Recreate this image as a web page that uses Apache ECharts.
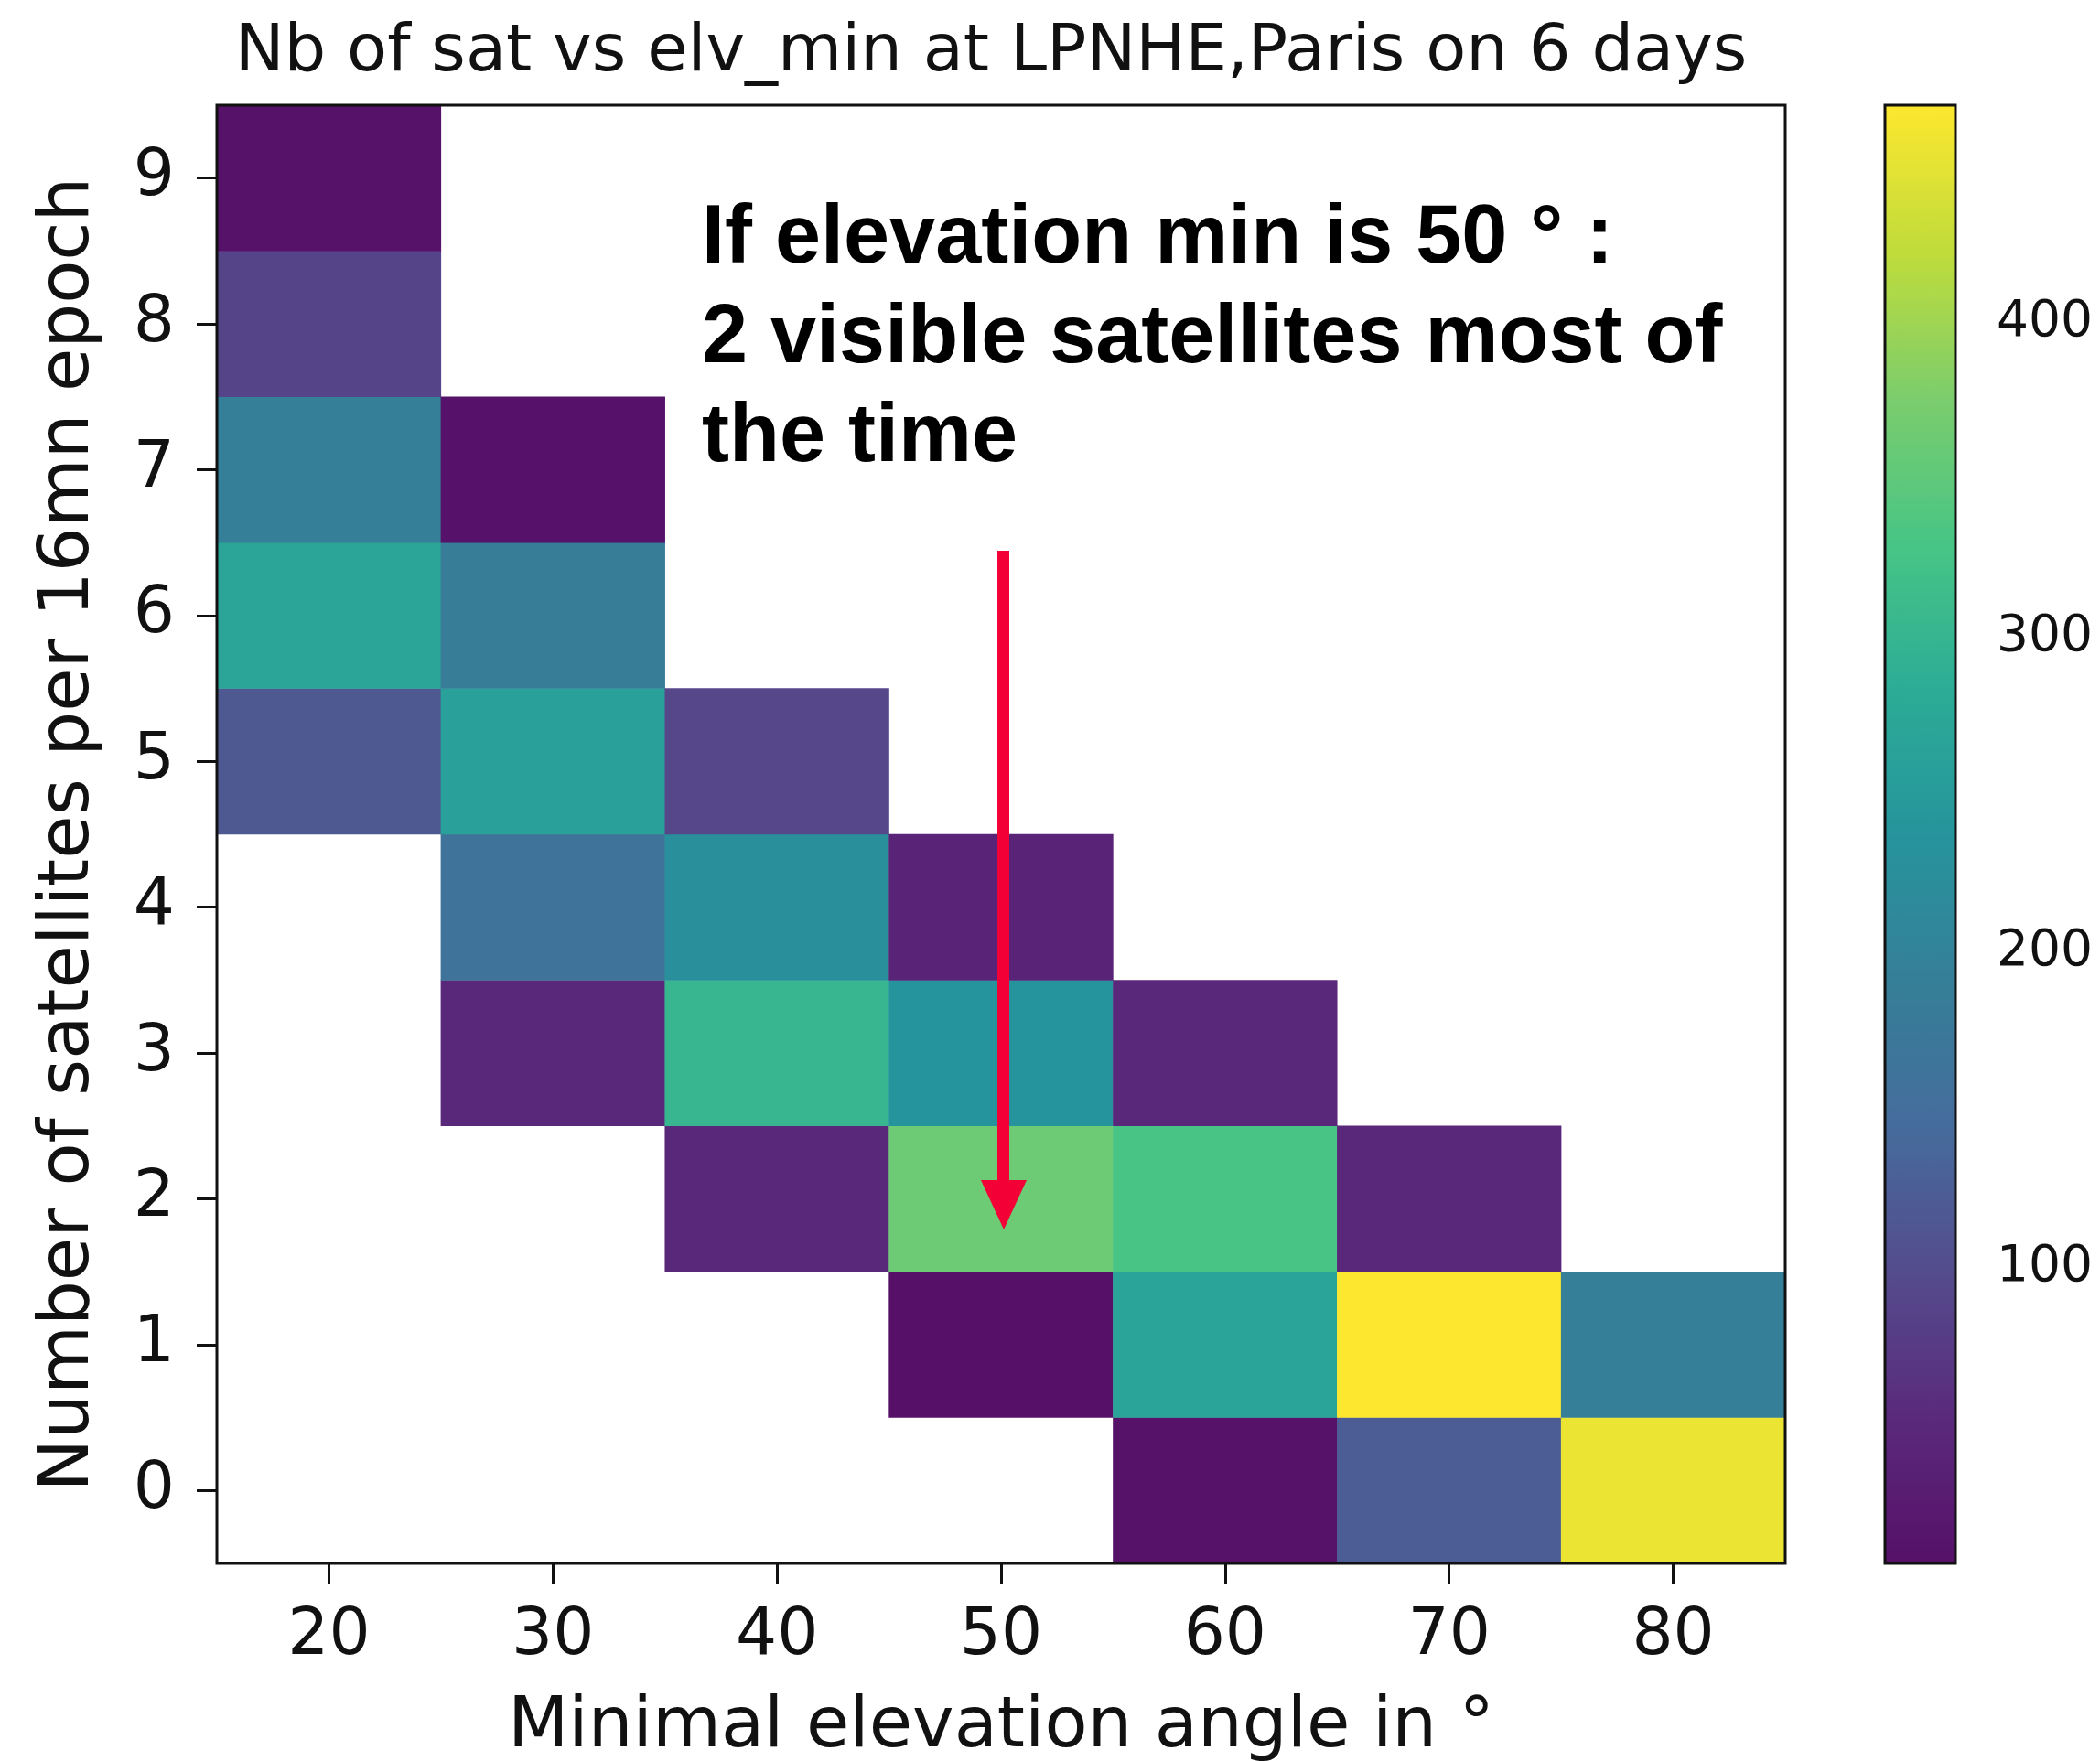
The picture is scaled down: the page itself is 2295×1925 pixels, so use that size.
<!DOCTYPE html>
<html>
<head>
<meta charset="utf-8">
<script src="https://cdn.jsdelivr.net/npm/echarts@6/dist/echarts.min.js"></script>
<style>
  html, body { margin: 0; padding: 0; background: #fff; }
  #chart { width: 2295px; height: 1925px; }
</style>
</head>
<body>
<div id="chart"></div>
<script>
// ---- Data ----
const xCategories = ['20', '30', '40', '50', '60', '70', '80'];
const yCategories = ['0', '1', '2', '3', '4', '5', '6', '7', '8', '9'];
// counts per minimal-elevation column, index = number of satellites (0..9)
const elv20 = [null, null, null, null, null, 117, 270, 190, 88, 8];
const elv30 = [null, null, null, 48, 163, 261, 186, 10, null, null];
const elv40 = [null, null, 48, 302, 228, 92, null, null, null, null];
const elv50 = [null, 6, 362, 238, 40, null, null, null, null, null];
const elv60 = [7, 268, 330, 48, null, null, null, null, null, null];
const elv70 = [122, 469, 48, null, null, null, null, null, null, null];
const elv80 = [456, 190, null, null, null, null, null, null, null, null];
const colorbarTicks = [100, 200, 300, 400];
const countMin = 6;
const countMax = 469;

const columns = [elv20, elv30, elv40, elv50, elv60, elv70, elv80];
const heatData = [];
columns.forEach((col, xi) => {
  col.forEach((v, yi) => { if (v !== null) heatData.push([xi, yi, v]); });
});

// viridis as it appears in the reference image
const viridis = ['#561068', '#5a2a7c', '#544c8c', '#456c9c', '#357f98', '#26949c',
  '#2cac96', '#48c585', '#7ccd6c', '#c0dc3a', '#fde72f'];

// ---- Layout ----
const G = { left: 237, top: 115, width: 1714, height: 1594 };
const CB = { left: 2060, top: 115, width: 77, height: 1594 };
const FONT = '"DejaVu Sans", sans-serif';
const NOTE_FONT = 'bold 90px "Liberation Sans", Arial, sans-serif';

const chart = echarts.init(document.getElementById('chart'), null, { renderer: 'canvas' });

const option = {
  backgroundColor: '#fff',
  animation: false,
  title: {
    text: 'Nb of sat vs elv_min at LPNHE,Paris on 6 days',
    left: 1078, top: 17, textAlign: 'center',
    textStyle: { fontFamily: FONT, fontSize: 72, fontWeight: 'normal', color: '#111' }
  },
  grid: [
    { left: G.left, top: G.top, width: G.width, height: G.height, containLabel: false, outerBoundsMode: 'none' },
    { left: CB.left, top: CB.top, width: CB.width, height: CB.height, containLabel: false, outerBoundsMode: 'none' }
  ],
  xAxis: [
    {
      type: 'category', gridIndex: 0, data: xCategories,
      name: 'Minimal elevation angle in °', nameLocation: 'middle', nameGap: 141,
      nameTextStyle: { fontFamily: FONT, fontSize: 77, color: '#111' },
      axisLine: { show: false },
      axisTick: { show: true, alignWithLabel: true, length: 22, lineStyle: { color: '#111', width: 3 } },
      axisLabel: { fontFamily: FONT, fontSize: 71, color: '#111', margin: 45 },
      splitLine: { show: false }
    },
    { type: 'value', gridIndex: 1, show: false, min: 0, max: 1 }
  ],
  yAxis: [
    {
      type: 'category', gridIndex: 0, data: yCategories,
      name: 'Number of satellites per 16mn epoch', nameLocation: 'middle', nameGap: 123,
      nameRotate: 90,
      nameTextStyle: { fontFamily: FONT, fontSize: 77, color: '#111' },
      axisLine: { show: false },
      axisTick: { show: true, alignWithLabel: true, length: 22, lineStyle: { color: '#111', width: 3 } },
      axisLabel: { fontFamily: FONT, fontSize: 71, color: '#111', margin: 46 },
      splitLine: { show: false }
    },
    {
      type: 'value', gridIndex: 1, position: 'right', min: countMin, max: countMax,
      axisLine: { show: false },
      axisTick: { show: true, length: 22, customValues: colorbarTicks, lineStyle: { color: '#111', width: 3 } },
      axisLabel: { show: true, customValues: colorbarTicks, fontFamily: FONT, fontSize: 55, color: '#111', margin: 45 },
      splitLine: { show: false }
    }
  ],
  visualMap: {
    type: 'continuous', seriesIndex: 0,
    min: countMin, max: countMax,
    calculable: false, hoverLink: false, realtime: false,
    orient: 'vertical', left: CB.left, top: CB.top, padding: 0,
    itemWidth: CB.width, itemHeight: CB.height,
    text: null, showLabel: false,
    inRange: { color: viridis }
  },
  series: [{
    type: 'heatmap', xAxisIndex: 0, yAxisIndex: 0,
    data: heatData,
    itemStyle: { borderWidth: 0 },
    emphasis: { disabled: true },
    label: { show: false }
  }],
  graphic: [
    { type: 'rect', z: 100, silent: true,
      shape: { x: G.left, y: G.top, width: G.width, height: G.height },
      style: { fill: null, stroke: '#111', lineWidth: 3 } },
    { type: 'rect', z: 100, silent: true,
      shape: { x: CB.left, y: CB.top, width: CB.width, height: CB.height },
      style: { fill: null, stroke: '#111', lineWidth: 3 } },
    { type: 'text', z: 110, silent: true,
      style: { text: 'If elevation min is 50 ° :', x: 767, y: 262, verticalAlign: 'middle',
        font: NOTE_FONT, fill: '#000' } },
    { type: 'text', z: 110, silent: true,
      style: { text: '2 visible satellites most of', x: 767, y: 371, verticalAlign: 'middle',
        font: NOTE_FONT, fill: '#000' } },
    { type: 'text', z: 110, silent: true,
      style: { text: 'the time', x: 767, y: 479, verticalAlign: 'middle',
        font: NOTE_FONT, fill: '#000' } },
    { type: 'rect', z: 110, silent: true,
      shape: { x: 1090, y: 602, width: 13, height: 692 },
      style: { fill: '#f20036' } },
    { type: 'polygon', z: 110, silent: true,
      shape: { points: [[1072, 1290], [1122, 1290], [1097, 1344]] },
      style: { fill: '#f20036' } }
  ]
};

chart.setOption(option);
</script>
</body>
</html>
